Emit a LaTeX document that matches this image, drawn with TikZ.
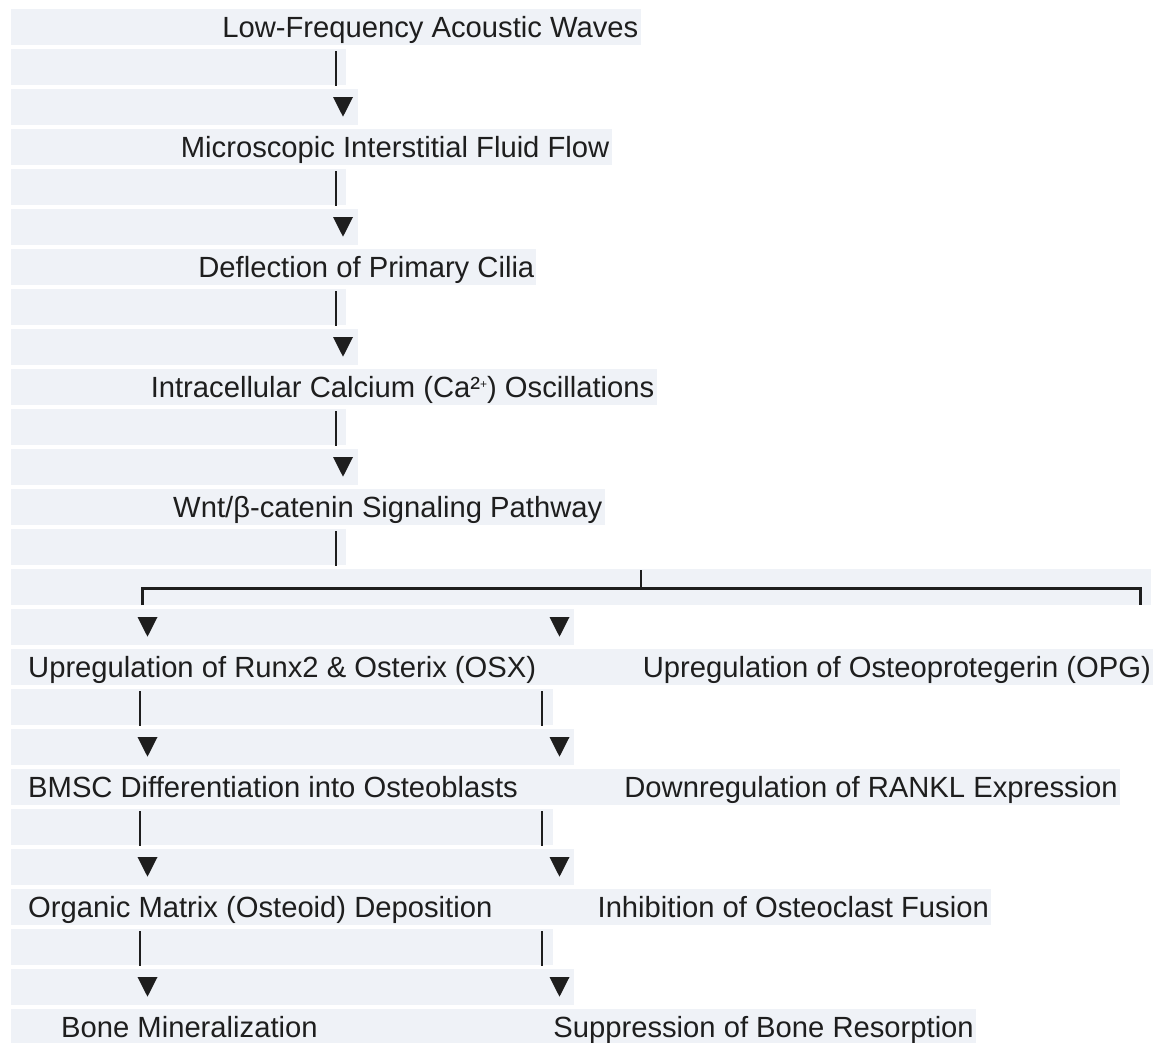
\documentclass[tikz,border=0pt]{standalone}
\usepackage{fontspec}
\setmainfont{Liberation Sans}
\definecolor{band}{RGB}{239,242,247}
\definecolor{ink}{RGB}{30,30,30}
\begin{document}
\begin{tikzpicture}[x=1pt,y=-1pt,
  txt/.style={inner sep=0pt, font=\fontsize{29.2}{35}\selectfont, text=ink},
  pipe/.style={draw=ink, line width=2.6pt},
  tri/.style={fill=ink},
  brline/.style={draw=ink, line width=3pt, line join=miter}]
\useasboundingbox (0,0) rectangle (1157,1042);
\fill[white] (0,0) rectangle (1157,1042);
\begin{scope}
\clip (0,0) rectangle (1157,1042);
% line bands
\foreach \i/\r in {0/641,1/346,2/358,3/612,4/346,5/358,6/536,7/346,8/358,9/657,10/346,11/358,12/605,13/346,14/1151,15/574,16/1153,17/553,18/574,19/1120,20/553,21/574,22/991,23/553,24/574,25/976}
  \fill[band] (11,{9+40*\i}) rectangle (\r,{45+40*\i});
\end{scope}
% texts
\node[txt, anchor=base east] (low) at (638.5,37) {Low-Frequency Acoustic Waves};
\node[txt, anchor=base east] (flow) at (609.5,157) {Microscopic Interstitial Fluid Flow};
\node[txt, anchor=base east] (cilia) at (534.5,277) {Deflection of Primary Cilia};
\node[txt, anchor=base east] (calc) at (654.5,397) {Intracellular Calcium (Ca²\raisebox{9pt}{\fontsize{12}{12}\selectfont +}) Oscillations};
\node[txt, anchor=base east] (wnt) at (602.5,517) {Wnt/β-catenin Signaling Pathway};
\node[txt, anchor=base west] (runx) at (28,677) {Upregulation of Runx2 \& Osterix (OSX)};
\node[txt, anchor=base east] (opg) at (1151,677) {Upregulation of Osteoprotegerin (OPG)};
\node[txt, anchor=base west] (bmsc) at (28,797) {BMSC Differentiation into Osteoblasts};
\node[txt, anchor=base east] (rankl) at (1118,797) {Downregulation of RANKL Expression};
\node[txt, anchor=base west] (osteoid) at (28,917) {Organic Matrix (Osteoid) Deposition};
\node[txt, anchor=base east] (fusion) at (989,917) {Inhibition of Osteoclast Fusion};
\node[txt, anchor=base west] (miner) at (61,1037) {Bone Mineralization};
\node[txt, anchor=base east] (resorb) at (974,1037) {Suppression of Bone Resorption};
% vertical bars of the main chain
\foreach \r in {1,4,7,10,13}
  \draw[pipe] (336,{11+40*\r}) -- (336,{46+40*\r});
% arrow heads of the main chain
\foreach \r in {2,5,8,11}
  \fill[tri] (333,{17+40*\r}) -- (353,{17+40*\r}) -- (343,{36.7+40*\r}) -- cycle;
% branch
\draw[brline] (142.5,605) -- (142.5,588) -- (1140,588) -- (1140,605);
\draw[ink, line width=2.6pt] (641,570) -- (641,588);
% two columns: bars
\foreach \r in {17,20,23}{
  \draw[pipe] (140,{11+40*\r}) -- (140,{46+40*\r});
  \draw[pipe] (542,{11+40*\r}) -- (542,{46+40*\r});
}
% two columns: arrow heads
\foreach \r in {15,18,21,24}{
  \fill[tri] (137.5,{17+40*\r}) -- (157.5,{17+40*\r}) -- (147.5,{36.7+40*\r}) -- cycle;
  \fill[tri] (549.5,{17+40*\r}) -- (569.5,{17+40*\r}) -- (559.5,{36.7+40*\r}) -- cycle;
}
\end{tikzpicture}
\end{document}
